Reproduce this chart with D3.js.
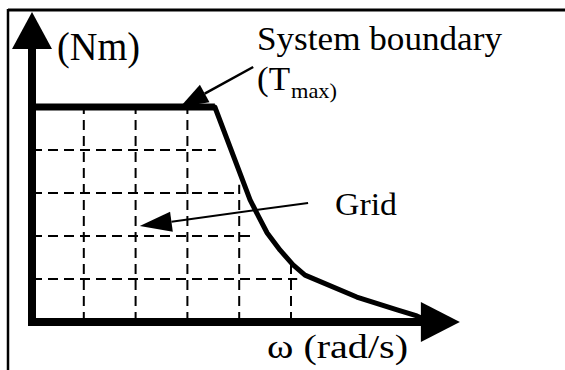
<!DOCTYPE html>
<html>
<head>
<meta charset="utf-8">
<script src="https://cdn.jsdelivr.net/npm/d3@7/dist/d3.min.js"></script>
<style>
    body { margin: 0; background: #fff; }
    text { font-family: "Liberation Serif", "Times New Roman", serif; fill: #000; }
</style>
</head>
<body>
<div id="chart"></div>
<script>

// grid lines, in (omega, torque) units
var omegaGrid = [1, 2, 3, 4, 5];
var omegaGridTop = [5, 5, 5, 3.19, 1.33];      // where each vertical dashed line stops
var torqueGrid = [1, 2, 3, 4];
var torqueGridEnd = [5.12, 4.25, 3.94, 3.55];  // where each horizontal dashed line stops

// system boundary (T_max curve)
var boundaryOmega  = [0, 3.53, 4.21, 4.38, 4.54, 4.79, 5.04, 5.27, 6.27, 7.05, 7.43, 7.65];
var boundaryTorque = [5, 5, 2.84, 2.44, 2.07, 1.67, 1.33, 1.09, 0.58, 0.28, 0.14, 0.02];

// axis arrow tips
var axisTip = [8.26, 7.21];

// annotation arrows: [tail omega, tail torque, tip omega, tip torque]
var boundaryPointer = [4.27, 5.93, 2.86, 5.0];
var gridPointer = [5.33, 2.77, 2.08, 2.23];


BoundaryVis = function(_parentElement) {
    this.parentElement = _parentElement;
    this.initVis();
}

BoundaryVis.prototype.initVis = function() {
    var vis = this;

    vis.width = 565;
    vis.height = 370;

    vis.svg = d3.select("#" + vis.parentElement).append("svg")
        .attr("width", vis.width)
        .attr("height", vis.height);

    // one grid step is ~52px across and 43px up
    vis.x = d3.scaleLinear().domain([0, 5]).range([32, 291]);
    vis.y = d3.scaleLinear().domain([0, 5]).range([322, 107]);

    vis.wrangleData();
}

BoundaryVis.prototype.wrangleData = function() {
    var vis = this;

    vis.boundary = boundaryOmega.map(function(w, i) {
        return {omega: w, torque: boundaryTorque[i]};
    });
    vis.vLines = omegaGrid.map(function(w, i) {
        return {omega: w, top: omegaGridTop[i]};
    });
    vis.hLines = torqueGrid.map(function(t, i) {
        return {torque: t, end: torqueGridEnd[i]};
    });

    vis.updateVis();
}

BoundaryVis.prototype.arrowHead = function(x1, y1, x2, y2, len, half) {
    // triangle with tip at (x2, y2) pointing away from (x1, y1)
    var dx = x2 - x1, dy = y2 - y1;
    var d = Math.sqrt(dx * dx + dy * dy);
    var ux = dx / d, uy = dy / d;
    var bx = x2 - ux * len, by = y2 - uy * len;
    return [[x2, y2], [bx - uy * half, by + ux * half], [bx + uy * half, by - ux * half]];
}

BoundaryVis.prototype.updateVis = function() {
    var vis = this;
    var x = vis.x, y = vis.y;

    // page frame (top and left only)
    vis.svg.append("line")
        .attr("x1", 8).attr("x2", vis.width).attr("y1", 10).attr("y2", 10)
        .attr("stroke", "#000").attr("stroke-width", 3);
    vis.svg.append("line")
        .attr("x1", 8).attr("x2", 8).attr("y1", 9).attr("y2", vis.height)
        .attr("stroke", "#000").attr("stroke-width", 2.5);

    // dashed grid
    vis.svg.selectAll(".vgrid")
        .data(vis.vLines)
        .enter()
        .append("line")
        .attr("class", "vgrid")
        .attr("x1", function(d) { return x(d.omega); })
        .attr("x2", function(d) { return x(d.omega); })
        .attr("y1", y(0))
        .attr("y2", function(d) { return y(d.top); })
        .attr("stroke", "#000")
        .attr("stroke-width", 2)
        .attr("stroke-dasharray", "10,6");

    vis.svg.selectAll(".hgrid")
        .data(vis.hLines)
        .enter()
        .append("line")
        .attr("class", "hgrid")
        .attr("x1", x(0))
        .attr("x2", function(d) { return x(d.end); })
        .attr("y1", function(d) { return y(d.torque); })
        .attr("y2", function(d) { return y(d.torque); })
        .attr("stroke", "#000")
        .attr("stroke-width", 2)
        .attr("stroke-dasharray", "10,6");

    // boundary curve
    var line = d3.line()
        .x(function(d) { return x(d.omega); })
        .y(function(d) { return y(d.torque); });

    vis.svg.append("path")
        .datum(vis.boundary)
        .attr("d", line)
        .attr("fill", "none")
        .attr("stroke", "#000")
        .attr("stroke-width", 5)
        .attr("stroke-linejoin", "round");

    // flat T_max part is drawn heavier
    vis.svg.append("path")
        .datum(vis.boundary.slice(0, 2))
        .attr("d", line)
        .attr("fill", "none")
        .attr("stroke", "#000")
        .attr("stroke-width", 7);

    // axes with arrowheads
    vis.svg.append("line")
        .attr("x1", x(0)).attr("x2", x(0))
        .attr("y1", y(0) + 4).attr("y2", y(axisTip[1]) + 36)
        .attr("stroke", "#000").attr("stroke-width", 8);
    vis.svg.append("polygon")
        .attr("points", vis.arrowHead(x(0), y(0), x(0), y(axisTip[1]), 37, 20).join(" "));

    vis.svg.append("line")
        .attr("x1", x(0) - 4).attr("x2", x(axisTip[0]) - 38)
        .attr("y1", y(0)).attr("y2", y(0))
        .attr("stroke", "#000").attr("stroke-width", 8);
    vis.svg.append("polygon")
        .attr("points", vis.arrowHead(x(0), y(0), x(axisTip[0]), y(0), 39, 20).join(" "));

    // annotation pointers
    [[boundaryPointer, 2.5, 28, 10], [gridPointer, 2, 32, 10]].forEach(function(p) {
        var a = p[0];
        var x1 = x(a[0]), y1 = y(a[1]), x2 = x(a[2]), y2 = y(a[3]);
        var head = vis.arrowHead(x1, y1, x2, y2, p[2], p[3]);
        var bx = (head[1][0] + head[2][0]) / 2, by = (head[1][1] + head[2][1]) / 2;
        vis.svg.append("line")
            .attr("x1", x1).attr("y1", y1).attr("x2", bx).attr("y2", by)
            .attr("stroke", "#000").attr("stroke-width", p[1]);
        vis.svg.append("polygon").attr("points", head.join(" "));
    });

    // labels
    function label(txt, px, py, size, len) {
        vis.svg.append("text")
            .attr("x", px).attr("y", py)
            .attr("font-size", size)
            .attr("textLength", len)
            .attr("lengthAdjust", "spacingAndGlyphs")
            .text(txt);
    }
    label("(Nm)", 57, 60, 40, 83);
    label("System boundary", 257, 50, 33, 245);
    label("(T", 257, 90, 33, 33);
    label("max)", 291, 98, 22, 46);
    label("Grid", 335, 215, 32, 62);
    label("\u03c9 (rad/s)", 267, 358, 33, 141);
}

new BoundaryVis("chart");

</script>
</body>
</html>
